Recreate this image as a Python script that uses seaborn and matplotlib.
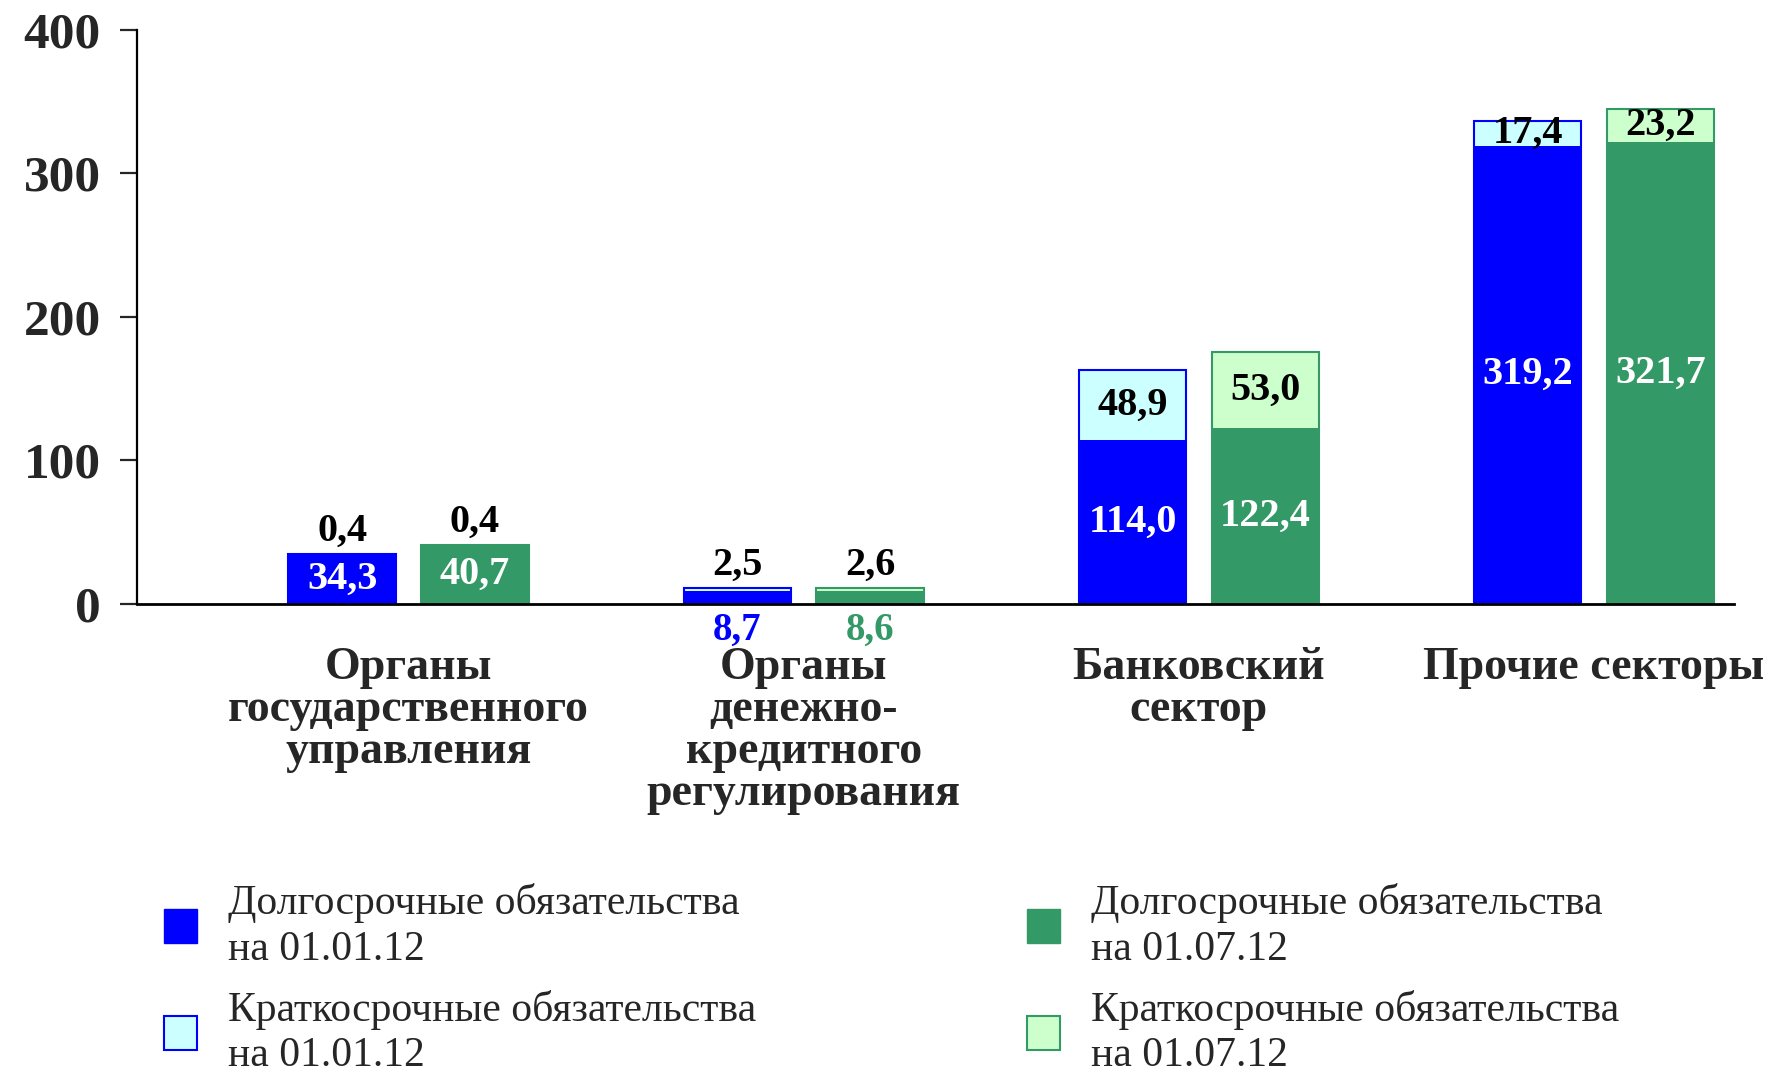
import matplotlib
matplotlib.use("Agg")
import matplotlib.pyplot as plt
import matplotlib.transforms as mtransforms
from matplotlib.patches import Patch
import seaborn as sns
import pandas as pd

# data
sectors = [
    "Органы\nгосударственного\nуправления",
    "Органы\nденежно-\nкредитного\nрегулирования",
    "Банковский\nсектор",
    "Прочие секторы",
]
dates = ["01.01.12", "01.07.12"]
long_jan = [34.3, 8.7, 114.0, 319.2]
short_jan = [0.4, 2.5, 48.9, 17.4]
long_jul = [40.7, 8.6, 122.4, 321.7]
short_jul = [0.4, 2.6, 53.0, 23.2]

dark = {"01.01.12": "#0000FF", "01.07.12": "#339966"}
light = {"01.01.12": "#CCFFFF", "01.07.12": "#CCFFCC"}


def fmt(v):
    return f"{v:.1f}".replace(".", ",")


rows = []
for i, s in enumerate(sectors):
    rows.append((s, dates[0], long_jan[i], short_jan[i]))
    rows.append((s, dates[1], long_jul[i], short_jul[i]))
df = pd.DataFrame(rows, columns=["sector", "date", "long", "short"])
df["total"] = df["long"] + df["short"]

sns.set_style("white")
plt.rcParams["font.family"] = ["Liberation Serif", "DejaVu Serif"]

fig, ax = plt.subplots(figsize=(17.68, 10.74), dpi=100)
fig.subplots_adjust(left=0.0775, right=0.981, top=0.972, bottom=0.438)

bw = 0.672
gap = 0.19
sns.barplot(data=df, x="sector", y="total", hue="date", palette=light,
            width=bw, gap=gap, ax=ax, legend=False, saturation=1,
            linewidth=1.5, edgecolor="none")
sns.barplot(data=df, x="sector", y="long", hue="date", palette=dark,
            width=bw, gap=gap, ax=ax, legend=False, saturation=1,
            linewidth=0)

# outline of the light (short-term) bars
for cont, d in zip(ax.containers[:2], dates):
    for p in cont.patches:
        p.set_edgecolor(dark[d])
        p.set_linewidth(1.5)

# value labels
for k, d in enumerate(dates):
    total_bars = ax.containers[k]
    long_bars = ax.containers[2 + k]
    sub = df[df["date"] == d].reset_index(drop=True)
    for i, (pt, pl) in enumerate(zip(total_bars.patches, long_bars.patches)):
        cx = pl.get_x() + pl.get_width() / 2
        lv, sv, tv = sub.loc[i, "long"], sub.loc[i, "short"], sub.loc[i, "total"]
        # long-term part
        if lv < 20:
            ax.annotate(fmt(lv), (cx, 0), xytext=(0, -6), textcoords="offset points",
                        ha="center", va="top", fontsize=28, fontweight="bold",
                        color=dark[d])
        else:
            ax.text(cx, lv / 2, fmt(lv), ha="center", va="center", fontsize=29,
                    fontweight="bold", color="white")
        # short-term part
        if tv > 100:
            ax.text(cx, lv + sv / 2, fmt(sv), ha="center", va="center",
                    fontsize=29, fontweight="bold", color="black")
        else:
            ax.annotate(fmt(sv), (cx, tv), xytext=(0, 3), textcoords="offset points",
                        ha="center", va="bottom", fontsize=29, fontweight="bold",
                        color="black")

ax.set_ylim(0, 400)
ax.set_xlim(-0.687, 3.355)
ax.set_yticks([0, 100, 200, 300, 400])
ax.set_xlabel("")
ax.set_ylabel("")
ax.set_xticks(range(len(sectors)))
ax.set_xticklabels(sectors, fontsize=33, fontweight="bold", linespacing=1.0)
shift = mtransforms.ScaledTranslation(-10 / 100, 0, fig.dpi_scale_trans)
for lab in ax.get_xticklabels():
    lab.set_transform(lab.get_transform() + shift)
for lab in ax.get_yticklabels():
    lab.set_fontsize(37)
    lab.set_fontweight("bold")

sns.despine(ax=ax)
ax.spines["left"].set_linewidth(1.6)
ax.spines["bottom"].set_linewidth(2)
ax.spines["left"].set_color("black")
ax.spines["bottom"].set_color("black")
ax.tick_params(axis="y", direction="out", length=12, width=1.6, pad=14, left=True)
ax.tick_params(axis="x", length=0, pad=31)

lab_long = "Долгосрочные обязательства\nна "
lab_short = "Краткосрочные обязательства\nна "
for d, xa in zip(dates, [0.0926, 0.5806]):
    handles = [Patch(facecolor=dark[d], edgecolor=dark[d]),
               Patch(facecolor=light[d], edgecolor=dark[d], linewidth=1.5)]
    leg = fig.legend(handles=handles, labels=[lab_long + d, lab_short + d],
                     loc="upper left", bbox_to_anchor=(xa, 0.178), frameon=False,
                     fontsize=30, handlelength=0.81, handleheight=0.87,
                     handletextpad=0.73, labelspacing=0.5, borderaxespad=0,
                     borderpad=0)
    for t in leg.get_texts():
        t.set_linespacing(1.25)

fig.savefig("out.png", dpi=100, facecolor="white")
